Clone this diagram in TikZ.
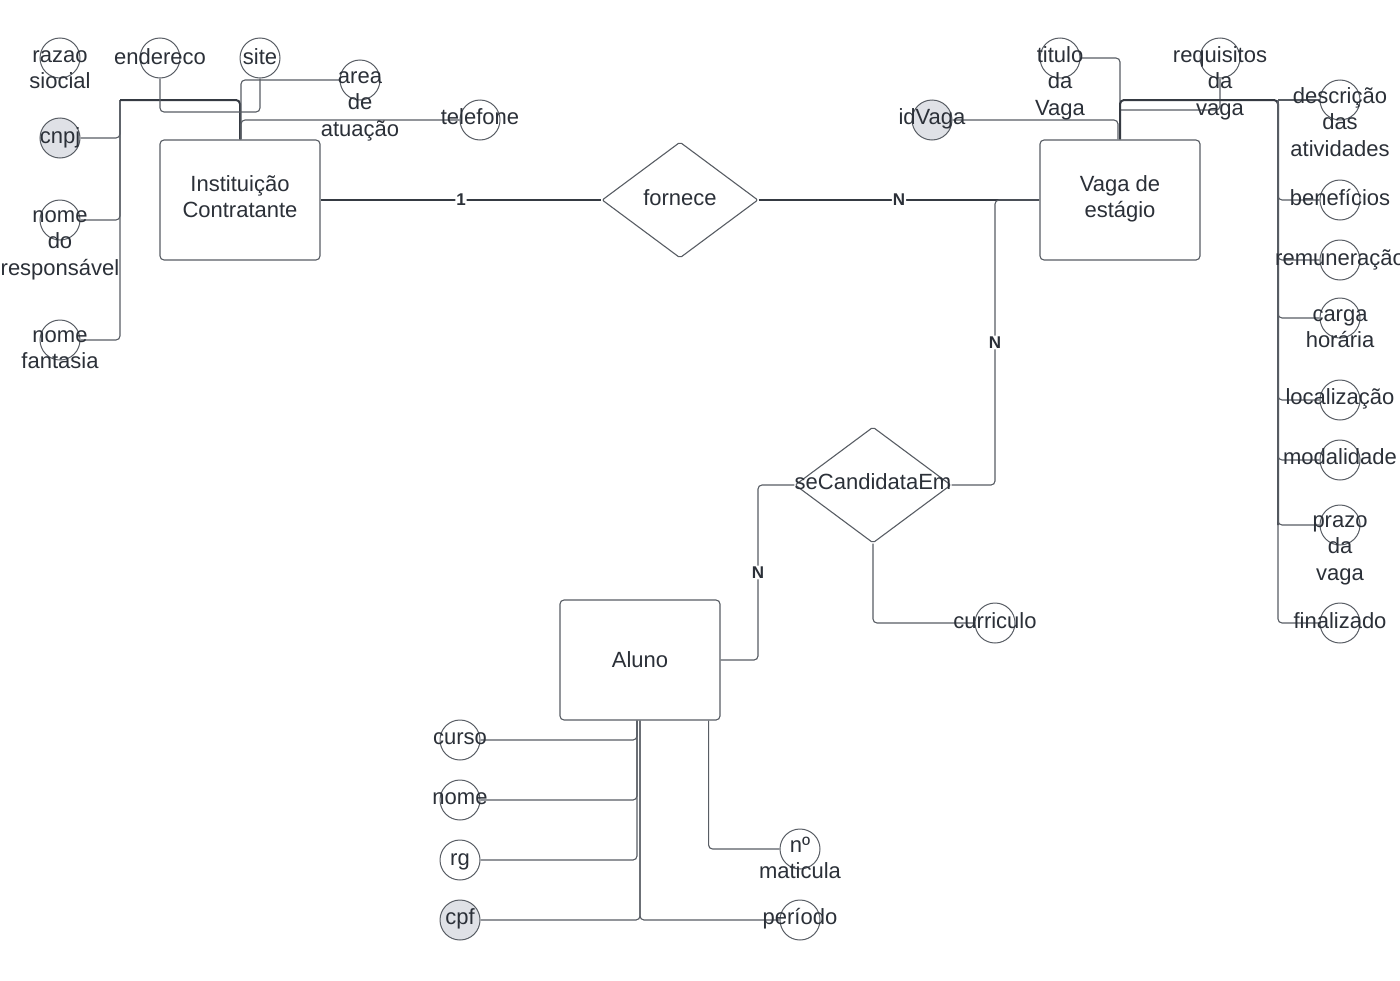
\documentclass[tikz,border=0pt]{standalone}
\usepackage{fontspec}
\setmainfont{Liberation Sans}
\usetikzlibrary{shapes.geometric}
\definecolor{txt}{HTML}{2B3038}
\definecolor{ln}{HTML}{585D64}
\definecolor{lndark}{HTML}{353A42}
\definecolor{keyfill}{HTML}{DFE1E6}
% centred multi-line text whose baseline is the first line's baseline
\newcommand\ml[1]{\begin{tabular}[t]{@{}c@{}}#1\end{tabular}}

\begin{document}
\begin{tikzpicture}[x=1pt,y=-1pt,
  every node/.style={font=\fontsize{22}{26.5}\selectfont, text=txt},
  entity/.style={draw=ln, line width=1.1pt, rounded corners=4pt, minimum width=160pt,
    minimum height=120pt, align=center, inner sep=0pt},
  relshape/.style={draw=ln, line width=1.1pt, diamond, minimum width=156pt,
    minimum height=116pt, inner sep=0pt, rounded corners=2pt},
  attrc/.style={draw=ln, line width=1pt, circle, minimum size=40pt, inner sep=0pt},
  keyc/.style={attrc, fill=keyfill},
  lbl/.style={anchor=base, inner sep=0pt},
  link/.style={draw=ln, line width=1.1pt, rounded corners=4pt},
  bus/.style={draw=lndark, line width=2pt, rounded corners=4pt},
  card/.style={font=\bfseries\fontsize{17}{17}\selectfont, fill=white, inner sep=1pt, text=txt}
]
\fill[white] (0,0) rectangle (1400,980);
\useasboundingbox (0,0) rectangle (1400,980);

% ---------- entities and relationships ----------
\node[entity] (inst) at (240,200) {};
\node[entity] (vaga) at (1120,200) {};
\node[entity] (aluno) at (640,660) {Aluno};
\node[relshape] (fornece) at (680,200) {};
\node[relshape] (secand) at (873,485) {};

% ---------- attribute circles ----------
\node[attrc] (razao) at (60,58) {};
\node[attrc] (endereco) at (160,58) {};
\node[attrc] (site) at (260,58) {};
\node[attrc] (area) at (360,80) {};
\node[attrc] (telefone) at (480,120) {};
\node[keyc] (cnpj) at (60,138) {};
\node[attrc] (responsavel) at (60,220) {};
\node[attrc] (fantasia) at (60,340) {};

\node[attrc] (titulo) at (1060,58) {};
\node[attrc] (requisitos) at (1220,58) {};
\node[keyc] (idvaga) at (932,120) {};
\node[attrc] (descricao) at (1340,100) {};
\node[attrc] (beneficios) at (1340,200) {};
\node[attrc] (remuneracao) at (1340,260) {};
\node[attrc] (carga) at (1340,318) {};
\node[attrc] (localizacao) at (1340,400) {};
\node[attrc] (modalidade) at (1340,460) {};
\node[attrc] (prazo) at (1340,525) {};
\node[attrc] (finalizado) at (1340,623) {};

\node[attrc] (curriculo) at (995,623) {};

\node[attrc] (curso) at (460,740) {};
\node[attrc] (nome) at (460,800) {};
\node[attrc] (rg) at (460,860) {};
\node[keyc] (cpf) at (460,920) {};
\node[attrc] (matricula) at (800,849) {};
\node[attrc] (periodo) at (800,920) {};

% ---------- bus points ----------
\coordinate (lbus) at (120,100);
\coordinate (icjoin) at (240,100);
\coordinate (icmid) at (240,112);
\coordinate (vjoin) at (1120,100);
\coordinate (vmid) at (1120,110);
\coordinate (rbus) at (1278,100);
\coordinate (vsplit) at (995,200);
\coordinate (asplit) at (758,485);

% ---------- Instituição Contratante attributes ----------
\draw[link] (cnpj.east) -| (lbus);
\draw[link] (responsavel.east) -| (lbus);
\draw[link] (fantasia.east) -| (lbus);
\draw[bus] (lbus) -- (icjoin) -- (inst.north);
\draw[link] (endereco.south) |- (icmid);
\draw[link] (site.south) |- (icmid);
\draw[link] (area.west) -| ([xshift=1pt]inst.north);
\draw[link] (telefone.west) -| ([xshift=1pt]inst.north);

% ---------- Vaga de estágio attributes ----------
\draw[link] (titulo.east) -| (vaga.north);
\draw[link] (requisitos.south) |- (vmid);
\draw[link] (idvaga.east) -| ([xshift=-2pt]vaga.north);
\draw[bus] (vaga.north) -- (vjoin) -- (rbus) -- (rbus |- prazo.west);
\draw[link] (rbus) -- (descricao.west);
\draw[link] (beneficios.west) -| (rbus);
\draw[link] (remuneracao.west) -| (rbus);
\draw[link] (carga.west) -| (rbus);
\draw[link] (localizacao.west) -| (rbus);
\draw[link] (modalidade.west) -| (rbus);
\draw[link] (prazo.west) -| (rbus);
\draw[link] (finalizado.west) -| (rbus);

% ---------- relationships ----------
\draw[bus] (inst.east) -- node[card] (c1) {1} (fornece.west);
\draw[bus] (fornece.east) -- node[card] (c2) {N} (vaga.west);
\draw[link] (vaga.west) -- (vsplit) -- node[card] (c3) {N} (vsplit |- secand.east) -- (secand.east);
\draw[link] (secand.west) -- (asplit) -- node[card] (c4) {N} (asplit |- aluno.east) -- (aluno.east);
\draw[link] (secand.south) |- (curriculo.west);

% ---------- Aluno attributes ----------
\draw[link] (curso.east) -| ([xshift=-3pt]aluno.south);
\draw[link] (nome.east) -| ([xshift=-3pt]aluno.south);
\draw[link] (rg.east) -| ([xshift=-3pt]aluno.south);
\draw[link] (cpf.east) -| (aluno.south);
\draw[link] (periodo.west) -| (aluno.south);
\draw[link] (matricula.west) -| ([xshift=-12pt]aluno.south east);

% ---------- texts ----------
\node[lbl] (t-inst) at (240,191) {\ml{Instituição\\Contratante}};
\node[lbl] (t-vaga) at (1120,191) {\ml{Vaga de\\estágio}};
\node[lbl] (t-fornece) at (680,205) {fornece};
\node[lbl] (t-secand) at (873,489) {seCandidataEm};

\node[lbl] (t-razao) at (60,62) {\ml{razao\\siocial}};
\node[lbl] (t-endereco) at (160,64) {endereco};
\node[lbl] (t-site) at (260,64) {site};
\node[lbl] (t-area) at (360,83) {\ml{area\\de\\atuação}};
\node[lbl] (t-telefone) at (480,124) {telefone};
\node[lbl] (t-cnpj) at (60,143) {cnpj};
\node[lbl] (t-responsavel) at (60,222) {\ml{nome\\do\\responsável}};
\node[lbl] (t-fantasia) at (60,342) {\ml{nome\\fantasia}};

\node[lbl] (t-titulo) at (1060,62) {\ml{titulo\\da\\Vaga}};
\node[lbl] (t-requisitos) at (1220,62) {\ml{requisitos\\da\\vaga}};
\node[lbl] (t-idvaga) at (932,124) {idVaga};
\node[lbl] (t-descricao) at (1340,103) {\ml{descrição\\das\\atividades}};
\node[lbl] (t-beneficios) at (1340,205) {benefícios};
\node[lbl] (t-remuneracao) at (1340,265) {remuneração};
\node[lbl] (t-carga) at (1340,321) {\ml{carga\\horária}};
\node[lbl] (t-localizacao) at (1340,404) {localização};
\node[lbl] (t-modalidade) at (1340,464) {modalidade};
\node[lbl] (t-prazo) at (1340,527) {\ml{prazo\\da\\vaga}};
\node[lbl] (t-finalizado) at (1340,628) {finalizado};

\node[lbl] (t-curriculo) at (995,628) {curriculo};

\node[lbl] (t-curso) at (460,744) {curso};
\node[lbl] (t-nome) at (460,804) {nome};
\node[lbl] (t-rg) at (460,865) {rg};
\node[lbl] (t-cpf) at (460,924) {cpf};
\node[lbl] (t-matricula) at (800,852) {\ml{nº\\maticula}};
\node[lbl] (t-periodo) at (800,924) {período};
\end{tikzpicture}
\end{document}
